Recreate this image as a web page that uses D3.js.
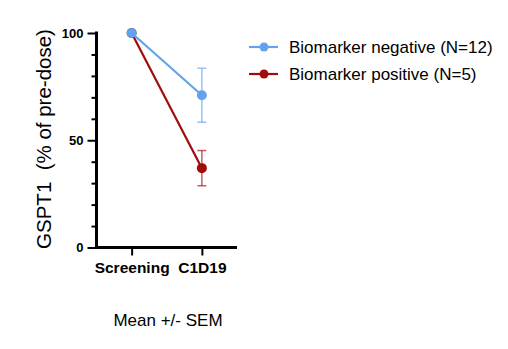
<!DOCTYPE html>
<html>
<head>
<meta charset="utf-8">
<script src="https://cdn.jsdelivr.net/npm/d3@7"></script>
<style>
  html, body { margin: 0; padding: 0; background: #fff; }
  svg { display: block; font-family: "Liberation Sans", Arial, sans-serif; }
</style>
</head>
<body>
<svg id="chart" width="508" height="349"></svg>
<script>
const categories = ["Screening", "C1D19"];
const negMean = [100, 71];
const negSem = [0, 12.6];
const posMean = [100, 37];
const posSem = [0, 8.2];
const yMajorTicks = [0, 50, 100];
const yMinorTicks = [10, 20, 30, 40, 60, 70, 80, 90];
const seriesNames = ["Biomarker negative (N=12)", "Biomarker positive (N=5)"];
const yTitle = "GSPT1  (% of pre-dose)";
const footnote = "Mean +/- SEM";

const colors = ["#62a3ee", "#a00c0c"];

const svg = d3.select("#chart");

const x = d3.scalePoint().domain(categories).range([96.5, 237]).padding(0.5);
const y = d3.scaleLinear().domain([0, 100]).range([247.5, 33]);

// series (positive drawn first so negative sits on top)
const series = [
  { name: seriesNames[1], mean: posMean, sem: posSem, color: colors[1] },
  { name: seriesNames[0], mean: negMean, sem: negSem, color: colors[0] }
];

series.forEach(s => {
  const pts = categories.map((c, i) => ({ c, m: s.mean[i], e: s.sem[i] }));
  const g = svg.append("g");
  pts.filter(p => p.e > 0).forEach(p => {
    const cx = x(p.c);
    g.append("line").attr("x1", cx).attr("x2", cx)
      .attr("y1", y(p.m + p.e)).attr("y2", y(p.m - p.e))
      .attr("stroke", s.color).attr("stroke-opacity", 0.65).attr("stroke-width", 1.5);
    [p.m + p.e, p.m - p.e].forEach(v => {
      g.append("line").attr("x1", cx - 4.5).attr("x2", cx + 4.5)
        .attr("y1", y(v)).attr("y2", y(v))
        .attr("stroke", s.color).attr("stroke-opacity", 0.65).attr("stroke-width", 1.5);
    });
  });
  g.append("path")
    .datum(pts)
    .attr("fill", "none")
    .attr("stroke", s.color)
    .attr("stroke-width", 2.2)
    .attr("d", d3.line().x(d => x(d.c)).y(d => y(d.m)));
  g.selectAll("circle").data(pts).join("circle")
    .attr("cx", d => x(d.c)).attr("cy", d => y(d.m)).attr("r", 5)
    .attr("fill", s.color);
});

// Y axis minor ticks
const yMinor = svg.append("g").attr("transform", "translate(96.5,0)")
  .call(d3.axisLeft(y).tickValues(yMinorTicks).tickSize(5).tickSizeOuter(0).tickFormat(""));
yMinor.select(".domain").remove();
yMinor.selectAll(".tick line").attr("stroke", "#000").attr("stroke-width", 2);

// Y axis major
const yAxis = svg.append("g").attr("transform", "translate(96.5,0)")
  .call(d3.axisLeft(y).tickValues(yMajorTicks).tickSize(9).tickSizeOuter(0).tickPadding(4));
yAxis.select(".domain").attr("stroke", "#000").attr("stroke-width", 3)
  .attr("d", `M0,${y(100) - 1.5}V${y(0) + 1.5}`);
yAxis.selectAll(".tick line").attr("stroke", "#000").attr("stroke-width", 2);
yAxis.selectAll(".tick text")
  .attr("font-family", "Liberation Sans, Arial, sans-serif")
  .attr("font-size", 13).attr("font-weight", "bold").attr("fill", "#000");

// X axis
const xAxis = svg.append("g").attr("transform", "translate(0,247.5)")
  .call(d3.axisBottom(x).tickSize(8).tickSizeOuter(0).tickPadding(6));
xAxis.select(".domain").attr("stroke", "#000").attr("stroke-width", 3)
  .attr("d", `M95,0H237`);
xAxis.selectAll(".tick line").attr("stroke", "#000").attr("stroke-width", 2);
xAxis.selectAll(".tick text")
  .attr("font-family", "Liberation Sans, Arial, sans-serif")
  .attr("font-size", 15.5).attr("font-weight", "bold").attr("fill", "#000");

// Y title
svg.append("text")
  .attr("transform", `translate(51,139) rotate(-90)`)
  .attr("text-anchor", "middle")
  .attr("font-size", 20.5)
  .attr("fill", "#000")
  .style("white-space", "pre")
  .text(yTitle);

// footnote
svg.append("text")
  .attr("x", 168).attr("y", 326)
  .attr("text-anchor", "middle")
  .attr("font-size", 17)
  .attr("fill", "#000")
  .text(footnote);

// legend
const legendItems = [
  { name: seriesNames[0], color: colors[0] },
  { name: seriesNames[1], color: colors[1] }
];
legendItems.forEach((d, i) => {
  const ly = 47 + i * 27;
  const g = svg.append("g");
  g.append("line").attr("x1", 249).attr("x2", 278).attr("y1", ly).attr("y2", ly)
    .attr("stroke", d.color).attr("stroke-width", 2.2);
  g.append("circle").attr("cx", 264).attr("cy", ly).attr("r", 4.5).attr("fill", d.color);
  g.append("text").attr("x", 289).attr("y", ly + 6)
    .attr("font-size", 17).attr("fill", "#000").text(d.name);
});
</script>
</body>
</html>
